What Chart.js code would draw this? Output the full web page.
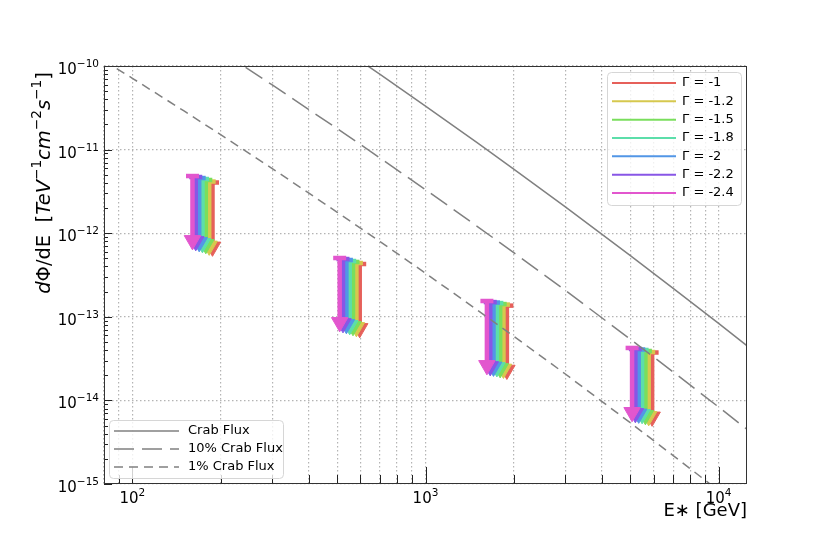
<!DOCTYPE html>
<html>
<head>
<meta charset="utf-8">
<script src="https://cdn.jsdelivr.net/npm/chart.js@4.4.1/dist/chart.umd.min.js"></script>
<style>
  html, body { margin: 0; padding: 0; background: #fff; }
</style>
</head>
<body>
<canvas id="fluxChart" width="830" height="554"></canvas>
<script>
// energies in GeV, fluxes in TeV^-1 cm^-2 s^-1
const crabEnergy = [80, 100, 150, 200, 300, 500, 700, 1000, 1500, 2000, 3000, 5000, 7000, 10000, 13000];
const crabFlux = [1.16e-8, 7.13e-9, 2.90e-9, 1.51e-9, 5.94e-10, 1.78e-10, 7.93e-11, 3.32e-11, 1.21e-11, 5.85e-12, 2.07e-12, 5.39e-13, 2.19e-13, 8.33e-14, 4.05e-14];
const crab10Flux = [1.16e-9, 7.13e-10, 2.90e-10, 1.51e-10, 5.94e-11, 1.78e-11, 7.93e-12, 3.32e-12, 1.21e-12, 5.85e-13, 2.07e-13, 5.39e-14, 2.19e-14, 8.33e-15, 4.05e-15];
const crab1Flux = [1.16e-10, 7.13e-11, 2.90e-11, 1.51e-11, 5.94e-12, 1.78e-12, 7.93e-13, 3.32e-13, 1.21e-13, 5.85e-14, 2.07e-14, 5.39e-15, 2.19e-15, 8.33e-16, 4.05e-16];
const crabLabels = ['Crab Flux', '10% Crab Flux', '1% Crab Flux'];

const gammaLabels = ['Γ = -1', 'Γ = -1.2', 'Γ = -1.5', 'Γ = -1.8', 'Γ = -2', 'Γ = -2.2', 'Γ = -2.4'];
const gammaColors = [
    'rgb(230, 96, 90)',
    'rgb(214, 200, 78)',
    'rgb(122, 222, 92)',
    'rgb(92, 222, 170)',
    'rgb(82, 150, 230)',
    'rgb(136, 86, 230)',
    'rgb(226, 86, 206)'
];

// upper limits: one row per index, one value per energy bin
const ulEnergy = [
    [187.6, 596.4, 1895, 5932],
    [182.8, 581.1, 1845, 5774],
    [178.0, 565.7, 1798, 5627],
    [173.4, 551.3, 1752, 5483],
    [169.0, 537.2, 1706, 5339],
    [164.5, 523.0, 1663, 5201],
    [160.3, 509.6, 1620, 5068]
];
const ulFlux = [
    [4.04e-12, 4.28e-13, 1.36e-13, 3.74e-14],
    [4.15e-12, 4.40e-13, 1.40e-13, 3.79e-14],
    [4.33e-12, 4.53e-13, 1.42e-13, 3.90e-14],
    [4.45e-12, 4.65e-13, 1.46e-13, 4.01e-14],
    [4.57e-12, 4.78e-13, 1.48e-13, 4.06e-14],
    [4.70e-12, 4.91e-13, 1.50e-13, 4.12e-14],
    [4.83e-12, 5.05e-13, 1.545e-13, 4.24e-14]
];

const xMajorTicks = [1e2, 1e3, 1e4];
const yMajorTicks = [1e-15, 1e-14, 1e-13, 1e-12, 1e-11, 1e-10];

const ARROW_DROP = 0.17;   // arrow length (fraction of the limit)
const FONT = "'DejaVu Sans', sans-serif";
Chart.defaults.font.family = FONT;
Chart.defaults.color = '#000';

function expOf(v) {
    return String(Math.round(Math.log10(v))).replace('-', '−');
}

function logTicks(majors, min, max) {
    const out = [];
    [majors[0] / 10].concat(majors).forEach(m => {
        for (let k = 1; k < 10; k++) out.push({value: m * k, major: k === 1});
    });
    return out.filter(t => t.value >= min * 0.9999 && t.value <= max * 1.0001)
              .sort((a, b) => a.value - b.value);
}

const datasets = [];
const crabSets = [crabFlux, crab10Flux, crab1Flux];
const crabDash = [[], [20, 8], [9, 6]];
crabSets.forEach((flux, i) => {
    datasets.push({
        label: crabLabels[i],
        data: crabEnergy.map((e, j) => ({x: e, y: flux[j]})),
        showLine: true,
        borderColor: '#808080',
        borderWidth: 1.5,
        borderDash: crabDash[i],
        pointRadius: 0,
        order: 0
    });
});

gammaLabels.forEach((lab, g) => {
    const pts = [];
    ulEnergy[g].forEach((e, b) => {
        pts.push({x: e, y: ulFlux[g][b]});
        pts.push({x: e, y: ulFlux[g][b] * ARROW_DROP});
        pts.push({x: e, y: null});
    });
    datasets.push({
        label: lab,
        data: pts,
        showLine: true,
        spanGaps: false,
        borderColor: gammaColors[g],
        backgroundColor: gammaColors[g],
        borderWidth: 4.5,
        pointStyle: ctx => ['line', 'triangle', false][ctx.dataIndex % 3],
        rotation: ctx => (ctx.dataIndex % 3 === 1 ? 180 : 0),
        pointRadius: ctx => [6.5, 9.5, 0][ctx.dataIndex % 3],
        pointBorderWidth: ctx => [4.5, 1, 0][ctx.dataIndex % 3],
        pointBackgroundColor: gammaColors[g],
        pointBorderColor: gammaColors[g],
        order: 1 + (gammaLabels.length - 1 - g)
    });
});

function seg(ctx, x1, y1, x2, y2) {
    ctx.beginPath();
    ctx.moveTo(x1, y1);
    ctx.lineTo(x2, y2);
    ctx.stroke();
}

// inward ticks, the axes frame and the 10^n tick labels
const frameTicks = {
    id: 'frameTicks',
    afterDatasetsDraw(chart) {
        const {ctx, chartArea: a, scales: {x, y}} = chart;
        ctx.save();
        ctx.strokeStyle = '#222';
        ctx.lineWidth = 1;
        x.ticks.forEach(t => {
            const px = Math.round(x.getPixelForValue(t.value)) + 0.5;
            seg(ctx, px, a.bottom, px, a.bottom - (t.major ? 17 : 9));
        });
        y.ticks.forEach(t => {
            const py = Math.round(y.getPixelForValue(t.value)) + 0.5;
            seg(ctx, a.left, py, a.left + (t.major ? 8 : 4), py);
        });
        ctx.strokeStyle = '#333';
        ctx.strokeRect(a.left + 0.5, a.top + 0.5, a.right - a.left - 1, a.bottom - a.top - 1);

        const base = '15px ' + FONT, small = '10.5px ' + FONT;
        ctx.fillStyle = '#000';
        ctx.textBaseline = 'alphabetic';
        ctx.textAlign = 'left';
        x.ticks.filter(t => t.major).forEach(t => {
            const px = x.getPixelForValue(t.value);
            const e = expOf(t.value);
            ctx.font = base; const w1 = ctx.measureText('10').width;
            ctx.font = small; const w2 = ctx.measureText(e).width;
            const x0 = px - (w1 + w2) / 2;
            ctx.font = base; ctx.fillText('10', x0, a.bottom + 19);
            ctx.font = small; ctx.fillText(e, x0 + w1, a.bottom + 12);
        });
        y.ticks.filter(t => t.major).forEach(t => {
            const py = y.getPixelForValue(t.value);
            const e = expOf(t.value);
            ctx.font = base; const w1 = ctx.measureText('10').width;
            ctx.font = small; const w2 = ctx.measureText(e).width;
            const x0 = a.left - 5 - w1 - w2;
            ctx.font = base; ctx.fillText('10', x0, py + 8);
            ctx.font = small; ctx.fillText(e, x0 + w1, py + 1);
        });
        ctx.restore();
    }
};

function legendBox(ctx, x, y, w, h) {
    ctx.beginPath();
    ctx.roundRect(x + 0.5, y + 0.5, w, h, 4);
    ctx.fillStyle = 'rgba(255,255,255,0.8)';
    ctx.fill();
    ctx.strokeStyle = '#d6d6d6';
    ctx.lineWidth = 1;
    ctx.stroke();
}

// the two legends sit inside the plot
const insideLegends = {
    id: 'insideLegends',
    afterDraw(chart) {
        const {ctx, chartArea: a} = chart;
        ctx.save();
        ctx.font = '13px ' + FONT;
        ctx.textBaseline = 'middle';

        const gx = a.right - 140, gy = a.top + 6;
        legendBox(ctx, gx, gy, 134, 133);
        gammaLabels.forEach((lab, i) => {
            const yy = gy + 11 + i * 18.33;
            ctx.strokeStyle = gammaColors[i];
            ctx.lineWidth = 2;
            ctx.setLineDash([]);
            seg(ctx, gx + 5, yy, gx + 69, yy);
            ctx.fillStyle = '#000';
            ctx.fillText(lab, gx + 75, yy);
        });

        const cx = a.left + 5, cy = a.bottom - 64;
        legendBox(ctx, cx, cy, 174, 58);
        crabLabels.forEach((lab, i) => {
            const yy = cy + 11 + i * 18;
            ctx.strokeStyle = '#808080';
            ctx.lineWidth = 1.5;
            ctx.setLineDash(crabDash[i]);
            seg(ctx, cx + 5, yy, cx + 70, yy);
            ctx.setLineDash([]);
            ctx.fillStyle = '#000';
            ctx.fillText(lab, cx + 79, yy);
        });
        ctx.restore();
    }
};

// y axis title with italic and superscript parts
const yTitleParts = [
    {t: 'd', it: true}, {t: 'Φ'}, {t: '/dE  ['}, {t: 'TeV', it: true}, {t: '−1', sup: true},
    {t: 'cm', it: true}, {t: '−2', sup: true}, {t: 's', it: true}, {t: '−1', sup: true}, {t: ']'}
];
const yTitle = {
    id: 'yTitle',
    afterDraw(chart) {
        const ctx = chart.ctx;
        const size = 19.5;
        const fontOf = p => (p.it ? 'italic ' : '') + (p.sup ? size * 0.7 : size) + 'px ' + FONT;
        let total = 0;
        yTitleParts.forEach(p => { ctx.font = fontOf(p); total += ctx.measureText(p.t).width; });
        ctx.save();
        ctx.translate(50, 183 + total / 2);
        ctx.rotate(-Math.PI / 2);
        ctx.fillStyle = '#000';
        ctx.textBaseline = 'alphabetic';
        let cur = 0;
        yTitleParts.forEach(p => {
            ctx.font = fontOf(p);
            ctx.fillText(p.t, cur, p.sup ? -size * 0.45 : 0);
            cur += ctx.measureText(p.t).width;
        });
        ctx.restore();
    }
};

const gridColor = '#b4b4b4';

new Chart(document.getElementById('fluxChart'), {
    type: 'scatter',
    data: {datasets: datasets},
    options: {
        responsive: false,
        animation: false,
        layout: {padding: {top: 66, right: 83, bottom: 28, left: 0}},
        plugins: {
            legend: {display: false},
            tooltip: {enabled: false}
        },
        scales: {
            x: {
                type: 'logarithmic',
                min: 80,
                max: 12500,
                afterBuildTicks: s => { s.ticks = logTicks(xMajorTicks, 80, 12500); },
                afterFit: s => { s.height = 42; },
                ticks: {display: false, autoSkip: false},
                grid: {
                    color: gridColor,
                    lineWidth: 1.2,
                    drawTicks: false
                },
                border: {display: false, dash: [1.5, 2.5]},
                title: {
                    display: true,
                    text: 'E∗ [GeV]',
                    align: 'end',
                    font: {size: 18},
                    color: '#000',
                    padding: {top: 0, bottom: 4}
                }
            },
            y: {
                type: 'logarithmic',
                min: 1e-15,
                max: 1e-10,
                afterBuildTicks: s => { s.ticks = logTicks(yMajorTicks, 1e-15, 1e-10); },
                afterFit: s => { s.width = 104; },
                ticks: {display: false, autoSkip: false},
                grid: {
                    color: ctx => (ctx.tick && ctx.tick.major ? gridColor : 'rgba(0,0,0,0)'),
                    lineWidth: 1.2,
                    drawTicks: false
                },
                border: {display: false, dash: [1.5, 2.5]}
            }
        }
    },
    plugins: [frameTicks, insideLegends, yTitle]
});
</script>
</body>
</html>
